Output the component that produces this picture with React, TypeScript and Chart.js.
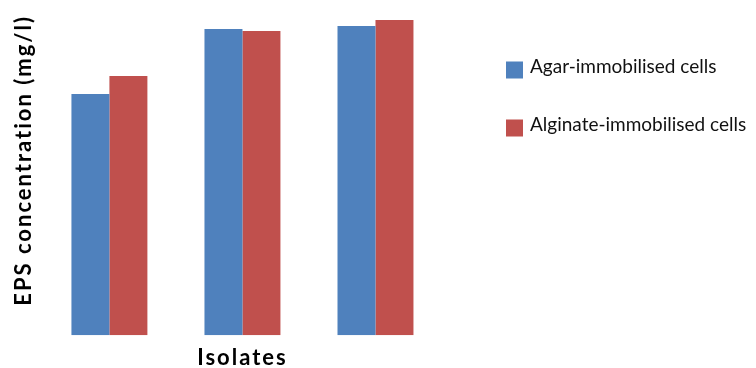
import { useEffect, useRef } from "react";
import { Chart, registerables } from "chart.js";

Chart.register(...registerables);

const categories = ["Isolate 1", "Isolate 2", "Isolate 3"];
const agarValues = [2.41, 3.06, 3.09];
const alginateValues = [2.59, 3.04, 3.15];
const seriesNames = ["Agar-immobilised cells", "Alginate-immobilised cells"];
const seriesColors = ["#4F81BD", "#C0504D"];

const spacingPlugin = {
  id: "spacing",
  beforeDraw(chart: any) {
    chart.ctx.letterSpacing = "2px";
  },
};

const legendPlugin = {
  id: "customLegend",
  afterDraw(chart: any) {
    const ctx = chart.ctx;
    ctx.save();
    ctx.letterSpacing = "0px";
    ctx.font = "19px Lato";
    ctx.textBaseline = "middle";
    const x0 = chart.chartArea.right + 64;
    const ys = [70, 128];
    chart.data.datasets.forEach((ds: any, i: number) => {
      ctx.fillStyle = ds.backgroundColor;
      ctx.fillRect(x0, ys[i] - 8.5, 17, 17);
      ctx.fillStyle = "#111";
      ctx.fillText(ds.label, x0 + 24, ys[i] - 3);
    });
    ctx.restore();
  },
};

export default function App() {
  const ref = useRef<HTMLCanvasElement>(null);
  useEffect(() => {
    document.body.style.margin = "0";
    const chart = new Chart(ref.current!, {
      type: "bar",
      data: {
        labels: categories,
        datasets: [
          { label: seriesNames[0], data: agarValues, backgroundColor: seriesColors[0] },
          { label: seriesNames[1], data: alginateValues, backgroundColor: seriesColors[1] },
        ],
      },
      options: {
        animation: false,
        responsive: false,
        layout: { padding: { top: 15, right: 314, left: 0, bottom: 0 } },
        plugins: { legend: { display: false }, tooltip: { enabled: false } },
        datasets: { bar: { barPercentage: 1, categoryPercentage: 0.571 } },
        scales: {
          x: {
            grid: { display: false },
            border: { display: false },
            ticks: { display: false },
            title: {
              display: true,
              text: "Isolates",
              color: "#000",
              font: { family: "Lato", size: 22, weight: "bold", lineHeight: 0.9 },
              padding: { top: 5, bottom: 0 },
            },
          },
          y: {
            min: 0,
            max: 3.2,
            grid: { display: false },
            border: { display: false },
            ticks: { display: false },
            title: {
              display: true,
              text: "EPS concentration (mg/l)",
              align: "end",
              color: "#000",
              font: { family: "Lato", size: 22, weight: "bold", lineHeight: 1.2 },
              padding: { top: 11, bottom: -2.5 },
            },
          },
        },
      },
      plugins: [spacingPlugin, legendPlugin],
    });
    return () => chart.destroy();
  }, []);
  return <canvas ref={ref} width={756} height={368} style={{ display: "block" }} />;
}
